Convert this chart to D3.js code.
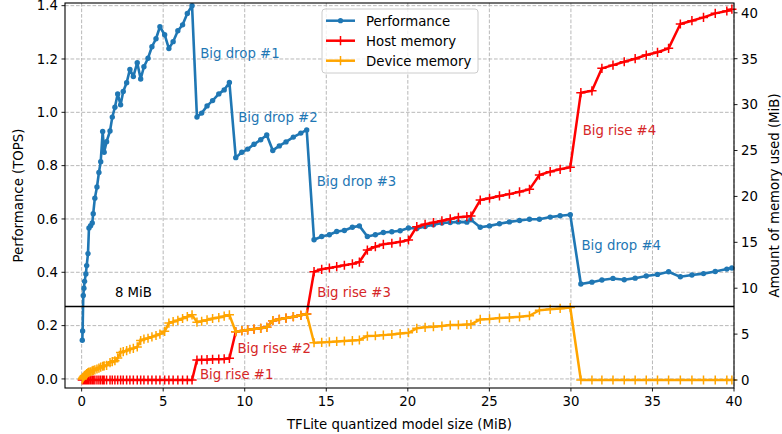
<!DOCTYPE html>
<html><head><meta charset="utf-8">
<script src="https://cdn.jsdelivr.net/npm/d3@7"></script>
<style>body{margin:0;background:#fff}svg{display:block}text{font-family:"DejaVu Sans",sans-serif}</style>
</head><body>
<svg id="chart" width="782" height="434"></svg>
<script>
const sizes = [0.04,0.06,0.10,0.14,0.18,0.26,0.31,0.39,0.45,0.55,0.65,0.71,0.81,0.94,1.06,1.17,1.29,1.38,1.53,1.74,1.88,2.04,2.21,2.39,2.55,2.76,2.96,3.17,3.41,3.62,3.82,4.07,4.31,4.56,4.80,5.09,5.35,5.61,5.90,6.19,6.48,6.77,7.07,7.36,7.69,8.03,8.41,8.74,9.06,9.45,9.82,10.18,10.57,10.98,11.35,11.72,12.12,12.53,12.98,13.44,13.80,14.25,14.72,15.19,15.64,16.11,16.60,17.03,17.52,18.01,18.50,19.02,19.53,20.04,20.55,21.06,21.57,22.09,22.60,23.10,23.62,23.87,24.44,25.01,25.62,26.23,26.85,27.46,28.07,28.73,29.34,29.96,30.61,31.29,31.90,32.58,33.27,33.94,34.62,35.31,35.99,36.71,37.42,38.13,38.85,39.56,39.87];
const performance = [0.145,0.18,0.313,0.34,0.366,0.394,0.425,0.47,0.566,0.575,0.585,0.62,0.678,0.72,0.774,0.815,0.928,0.85,0.89,0.93,0.982,1.019,1.069,1.028,1.078,1.111,1.161,1.134,1.186,1.125,1.171,1.203,1.246,1.276,1.321,1.291,1.239,1.265,1.306,1.328,1.371,1.40,0.982,0.997,1.024,1.044,1.069,1.084,1.112,0.830,0.85,0.862,0.88,0.897,0.915,0.857,0.874,0.889,0.907,0.922,0.934,0.522,0.534,0.541,0.553,0.557,0.569,0.574,0.534,0.541,0.549,0.552,0.556,0.566,0.564,0.572,0.578,0.585,0.587,0.589,0.588,0.597,0.569,0.574,0.582,0.589,0.594,0.599,0.599,0.607,0.612,0.616,0.356,0.363,0.371,0.377,0.372,0.378,0.386,0.392,0.402,0.383,0.39,0.395,0.403,0.412,0.416];
const hostMemory = [0,0,0,0,0,0,0,0,0,0,0,0,0,0,0,0,0,0,0,0,0,0,0,0,0,0,0,0,0,0,0,0,0,0,0,0,0,0,0,0,0,0,2.18,2.2,2.22,2.25,2.27,2.3,2.36,5.26,5.37,5.45,5.55,5.63,5.74,6.46,6.61,6.75,6.9,7.05,7.19,11.8,12.06,12.2,12.35,12.5,12.65,12.85,14.16,14.52,14.78,14.9,15.05,15.25,16.7,16.96,17.15,17.35,17.55,17.72,17.8,17.86,19.6,19.8,20.05,20.25,20.5,20.77,22.33,22.7,22.95,23.17,31.3,31.5,33.95,34.3,34.67,35.0,35.4,35.7,36.13,38.78,39.14,39.5,39.94,40.2,40.4];
const deviceMemory = [0.1,0.2,0.3,0.4,0.5,0.6,0.7,0.8,0.85,0.9,1.0,1.05,1.1,1.2,1.3,1.4,1.5,1.55,1.6,1.9,2.0,2.1,2.4,3.0,3.1,3.2,3.35,3.45,3.6,4.3,4.45,4.55,4.7,4.85,5.0,5.3,6.2,6.35,6.5,6.7,6.9,7.1,6.3,6.4,6.55,6.7,6.8,6.95,7.1,5.26,5.37,5.45,5.55,5.63,5.74,6.46,6.61,6.75,6.9,7.05,7.19,4.06,4.1,4.15,4.2,4.25,4.3,4.36,4.79,4.82,4.89,4.96,5.06,5.15,5.63,5.74,5.8,5.88,5.99,6.0,6.05,6.07,6.6,6.65,6.75,6.8,6.88,7.0,7.6,7.7,7.8,7.9,0,0,0,0,0,0,0,0,0,0,0,0,0,0,0];
const xTicks = [0,5,10,15,20,25,30,35,40];
const leftTicks = [0.0,0.2,0.4,0.6,0.8,1.0,1.2,1.4];
const rightTicks = [0,5,10,15,20,25,30,35,40];
const seriesNames = ["Performance","Host memory","Device memory"];
const dropLabels = [{t:"Big drop #1",x:7.27,y:1.203},{t:"Big drop #2",x:9.6,y:0.962},{t:"Big drop #3",x:14.42,y:0.724},{t:"Big drop #4",x:30.65,y:0.482}];
const riseLabels = [{t:"Big rise #1",x:7.25,y:0.16},{t:"Big rise #2",x:9.55,y:2.97},{t:"Big rise #3",x:14.45,y:9.07},{t:"Big rise #4",x:30.72,y:26.7}];
const limitValue = 8, limitLabel = "8 MiB";

const svg = d3.select("#chart");
const L=65, R=734, T=3, B=388;
const x = d3.scaleLinear().domain([-1.02,40]).range([L,R]);
const yL = d3.scaleLinear().domain([-0.034,1.41]).range([B,T]);
const yR = d3.scaleLinear().domain([-0.87,41.07]).range([B,T]);
const BLUE="#1f77b4", RED="#ff0000", ORANGE="#ffa500", TRED="#d62728";
const FS = "13.3px";

// grid
const grid = svg.append("g").attr("stroke","#b0b0b0").attr("stroke-width",0.9).attr("stroke-dasharray","3.7,1.8");
grid.selectAll("line.v").data(xTicks).join("line").attr("x1",d=>x(d)).attr("x2",d=>x(d)).attr("y1",T).attr("y2",B);
grid.selectAll("line.h").data(leftTicks).join("line").attr("y1",d=>yL(d)).attr("y2",d=>yL(d)).attr("x1",L).attr("x2",R);

const data = sizes.map((s,i)=>({s,p:performance[i],h:hostMemory[i],d:deviceMemory[i]}));

// performance
svg.append("path").datum(data).attr("fill","none").attr("stroke",BLUE).attr("stroke-width",2.6).attr("stroke-linejoin","round")
  .attr("d",d3.line().x(d=>x(d.s)).y(d=>yL(d.p)));
svg.append("g").selectAll("circle").data(data).join("circle").attr("cx",d=>x(d.s)).attr("cy",d=>yL(d.p)).attr("r",2.7).attr("fill",BLUE);

svg.append("g").selectAll("text").data(dropLabels).join("text").attr("x",d=>x(d.x)).attr("y",d=>yL(d.y))
  .attr("fill",BLUE).attr("font-size",FS).text(d=>d.t);

function plusPath(cx,cy,h){return `M${cx-h},${cy}H${cx+h}M${cx},${cy-h}V${cy+h}`;}

// host & device
[["h",RED],["d",ORANGE]].forEach(([k,c])=>{
  svg.append("path").datum(data).attr("fill","none").attr("stroke",c).attr("stroke-width",2.5).attr("stroke-linejoin","round")
    .attr("d",d3.line().x(d=>x(d.s)).y(d=>yR(d[k])));
  svg.append("path").attr("fill","none").attr("stroke",c).attr("stroke-width",1.5)
    .attr("d",data.map(d=>plusPath(x(d.s),yR(d[k]),4.6)).join(""));
});

// 8 MiB line
svg.append("line").attr("x1",L).attr("x2",R).attr("y1",yR(limitValue)).attr("y2",yR(limitValue)).attr("stroke","#000").attr("stroke-width",1.5);
svg.append("text").attr("x",x(2.04)).attr("y",yR(9.07)).attr("font-size",FS).attr("fill","#000").text(limitLabel);

svg.append("g").selectAll("text").data(riseLabels).join("text").attr("x",d=>x(d.x)).attr("y",d=>yR(d.y))
  .attr("fill",TRED).attr("font-size",FS).text(d=>d.t);

// frame
svg.append("rect").attr("x",L).attr("y",T).attr("width",R-L).attr("height",B-T).attr("fill","none").attr("stroke","#000").attr("stroke-width",1.1);

// axes
const ax = svg.append("g").attr("font-size",FS).attr("fill","#000");
xTicks.forEach(t=>{
  ax.append("line").attr("x1",x(t)).attr("x2",x(t)).attr("y1",B).attr("y2",B+3.5).attr("stroke","#000").attr("stroke-width",0.9);
  ax.append("text").attr("x",x(t)).attr("y",B+18).attr("text-anchor","middle").text(t);
});
leftTicks.forEach(t=>{
  ax.append("line").attr("x1",L-3.5).attr("x2",L).attr("y1",yL(t)).attr("y2",yL(t)).attr("stroke","#000").attr("stroke-width",0.9);
  ax.append("text").attr("x",L-7).attr("y",yL(t)+4.8).attr("text-anchor","end").text(t.toFixed(1));
});
rightTicks.forEach(t=>{
  ax.append("line").attr("x1",R).attr("x2",R+3.5).attr("y1",yR(t)).attr("y2",yR(t)).attr("stroke","#000").attr("stroke-width",0.9);
  ax.append("text").attr("x",R+7).attr("y",yR(t)+4.8).attr("text-anchor","start").text(t);
});
ax.append("text").attr("x",(L+R)/2).attr("y",429).attr("text-anchor","middle").text("TFLite quantized model size (MiB)");
ax.append("text").attr("transform",`translate(23,${(T+B)/2}) rotate(-90)`).attr("text-anchor","middle").text("Performance (TOPS)");
ax.append("text").attr("transform",`translate(779,${(T+B)/2}) rotate(-90)`).attr("text-anchor","middle").text("Amount of memory used (MiB)");

// legend
const lg = svg.append("g");
lg.append("rect").attr("x",322).attr("y",9).attr("width",156).attr("height",64).attr("rx",3)
  .attr("fill","#fff").attr("fill-opacity",0.8).attr("stroke","#cccccc").attr("stroke-width",1);
const colors=[BLUE,RED,ORANGE];
seriesNames.forEach((n,i)=>{
  const cy = 20.7 + i*20;
  lg.append("line").attr("x1",326).attr("x2",355).attr("y1",cy).attr("y2",cy).attr("stroke",colors[i]).attr("stroke-width",2.5);
  if(i===0) lg.append("circle").attr("cx",340.5).attr("cy",cy).attr("r",2.6).attr("fill",BLUE);
  else lg.append("path").attr("d",plusPath(340.5,cy,4.6)).attr("stroke",colors[i]).attr("stroke-width",1.5);
  lg.append("text").attr("x",366).attr("y",cy+4.8).attr("font-size",FS).attr("fill","#000").text(n);
});
</script>
</body></html>
